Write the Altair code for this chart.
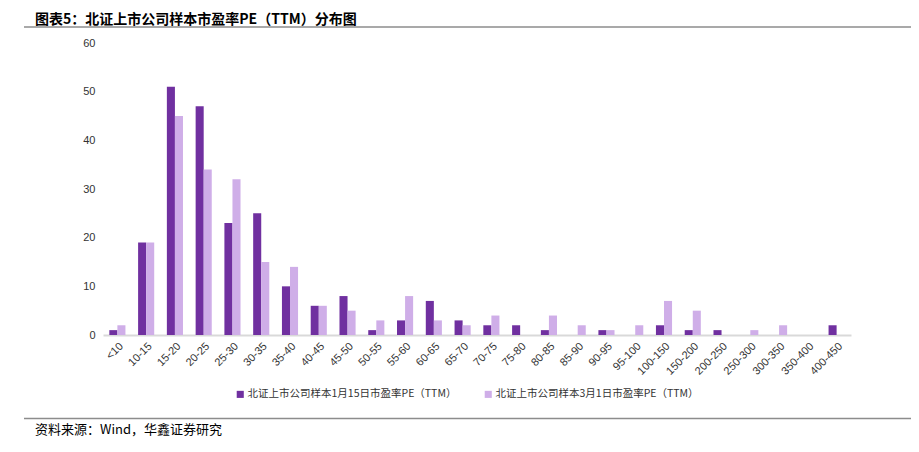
import altair as alt
import pandas as pd

categories = ["<10", "10-15", "15-20", "20-25", "25-30", "30-35", "35-40", "40-45", "45-50",
              "50-55", "55-60", "60-65", "65-70", "70-75", "75-80", "80-85", "85-90", "90-95",
              "95-100", "100-150", "150-200", "200-250", "250-300", "300-350", "350-400", "400-450"]
series_names = ["北证上市公司样本1月15日市盈率PE（TTM）", "北证上市公司样本3月1日市盈率PE（TTM）"]
jan15 = [1, 19, 51, 47, 23, 25, 10, 6, 8, 1, 3, 7, 3, 2, 2, 1, 0, 1, 0, 2, 1, 1, 0, 0, 0, 2]
mar1 = [2, 19, 45, 34, 32, 15, 14, 6, 5, 3, 8, 3, 2, 4, 0, 4, 2, 1, 2, 7, 5, 0, 1, 2, 0, 0]
y_ticks = [0, 10, 20, 30, 40, 50, 60]
colors = ["#7030A0", "#CFAEE8"]

title_text = "图表5：北证上市公司样本市盈率PE（TTM）分布图"
source_text = "资料来源：Wind，华鑫证券研究"

rows = []
for i, c in enumerate(categories):
    rows.append({"cat": c, "series": series_names[0], "v": jan15[i]})
    rows.append({"cat": c, "series": series_names[1], "v": mar1[i]})
df = pd.DataFrame(rows)

W, H = 748, 292
CJK = "Noto Sans CJK SC"
LAT = "Liberation Sans"

bars = alt.Chart(df).mark_bar().encode(
    x=alt.X("cat:N", sort=categories,
            scale=alt.Scale(paddingInner=0.44, paddingOuter=0.22),
            axis=alt.Axis(title=None, labelAngle=-45, ticks=False, domain=True,
                          domainColor="#D9D9D9", domainWidth=2,
                          labelFont=LAT, labelFontSize=11, labelColor="#333333",
                          labelPadding=5, grid=False)),
    xOffset=alt.XOffset("series:N", sort=series_names, scale=alt.Scale(paddingInner=0, paddingOuter=0)),
    y=alt.Y("v:Q", scale=alt.Scale(domain=[0, 60], nice=False),
            axis=alt.Axis(title=None, values=y_ticks, ticks=False, domain=False, grid=False,
                          labelFont=LAT, labelFontSize=11, labelColor="#333333", labelPadding=8)),
    color=alt.Color("series:N", sort=series_names,
                    scale=alt.Scale(domain=series_names, range=colors),
                    legend=alt.Legend(title=None, orient="none", legendX=132, legendY=346,
                                      direction="horizontal", symbolType="square", symbolSize=50,
                                      symbolStrokeWidth=0, labelFont=CJK, labelFontSize=10.5,
                                      labelColor="#333333", columnPadding=26, labelOffset=2,
                                      labelLimit=400)),
)

title = alt.Chart(pd.DataFrame({"t": [title_text]})).mark_text(
    align="left", baseline="alphabetic", font=CJK, fontSize=14, fontWeight="bold", color="#000000"
).encode(x=alt.value(-68), y=alt.value(-19), text="t:N")

top_line = alt.Chart(pd.DataFrame({"a": [0]})).mark_rule(color="#8C8C8C", strokeWidth=1.5).encode(
    x=alt.value(-79), x2=alt.value(808), y=alt.value(-16))

bottom_line = alt.Chart(pd.DataFrame({"a": [0]})).mark_rule(color="#8C8C8C", strokeWidth=1.5).encode(
    x=alt.value(-79), x2=alt.value(808), y=alt.value(375.5))

source = alt.Chart(pd.DataFrame({"t": [source_text]})).mark_text(
    align="left", baseline="middle", font=CJK, fontSize=13, color="#000000"
).encode(x=alt.value(-68), y=alt.value(387), text="t:N")

chart = alt.layer(bars, title, top_line, bottom_line, source).properties(
    width=W, height=H,
    autosize=alt.AutoSizeParams(type="none"),
    padding={"left": 95, "top": 35, "right": 60, "bottom": 105},
).configure_view(stroke=None)

chart.save("out.html", embed_options={"renderer": "svg", "actions": False})
